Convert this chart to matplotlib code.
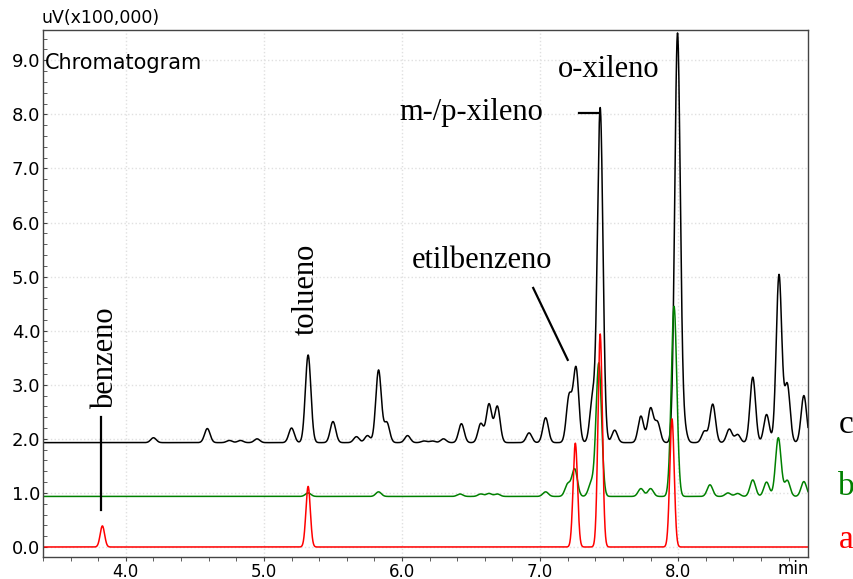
import numpy as np
import matplotlib
matplotlib.use("Agg")
import matplotlib.pyplot as plt
from matplotlib.ticker import MultipleLocator, FormatStrFormatter

# peak tables: retention time (min), apex value (x100,000 uV)
base_c = 1.93
rt_c = [4.20, 4.59, 4.75, 4.83, 4.95, 5.20, 5.32, 5.50, 5.67, 5.75, 5.83, 5.89,
        6.04, 6.16, 6.22, 6.30, 6.43, 6.57, 6.63, 6.69, 6.92, 7.04, 7.21, 7.26,
        7.38, 7.435, 7.54, 7.73, 7.80, 7.85, 7.995, 8.04, 8.19, 8.25, 8.37, 8.43,
        8.54, 8.64, 8.73, 8.79, 8.91]
top_c = [2.02, 2.19, 1.97, 1.97, 2.00, 2.20, 3.55, 2.32, 2.04, 2.06, 3.27, 2.30,
         2.06, 1.96, 1.96, 2.00, 2.28, 2.28, 2.64, 2.60, 2.11, 2.39, 2.78, 3.30,
         2.74, 8.11, 2.16, 2.42, 2.56, 2.30, 9.48, 2.24, 2.14, 2.64, 2.18, 2.08,
         3.14, 2.45, 5.03, 3.00, 2.80]

base_b = 0.935
rt_b = [5.32, 5.83, 6.42, 6.57, 6.63, 6.69, 7.04, 7.20, 7.25, 7.37, 7.425,
        7.73, 7.80, 7.97, 8.23, 8.36, 8.43, 8.54, 8.64, 8.725, 8.79, 8.91]
top_b = [1.00, 1.02, 0.98, 0.98, 0.99, 0.98, 1.02, 1.16, 1.44, 1.18, 3.40,
         1.08, 1.08, 4.45, 1.15, 1.00, 0.99, 1.24, 1.20, 2.02, 1.23, 1.21]

base_a = 0.0
rt_a = [3.83, 5.32, 7.255, 7.435, 7.955]
top_a = [0.39, 1.12, 1.92, 3.94, 2.37]


def trace(t, base, rts, tops, sig):
    y = np.full_like(t, base)
    for r, h in zip(rts, tops):
        y += (h - base) * np.exp(-0.5 * ((t - r) / sig) ** 2)
    return y


t = np.linspace(3.40, 8.94, 4000)
yc = trace(t, base_c, rt_c, top_c, 0.020)
yb = trace(t, base_b, rt_b, top_b, 0.020)
ya = trace(t, base_a, rt_a, top_a, 0.016)

fig = plt.figure(figsize=(8.54, 5.79), dpi=100)
ax = fig.add_axes([43 / 854, 1 - 557 / 579, (808 - 43) / 854, (557 - 30) / 579])

ax.plot(t, yc, color="black", lw=1.1)
ax.plot(t, yb, color="#008000", lw=1.1)
ax.plot(t, ya, color="#ff0000", lw=1.1)

ax.set_xlim(3.40, 8.94)
ax.set_ylim(-0.185, 9.56)
ax.xaxis.set_major_locator(MultipleLocator(1.0))
ax.xaxis.set_minor_locator(MultipleLocator(0.2))
ax.yaxis.set_major_locator(MultipleLocator(1.0))
ax.yaxis.set_minor_locator(MultipleLocator(0.2))
ax.xaxis.set_major_formatter(FormatStrFormatter("%.1f"))
ax.yaxis.set_major_formatter(FormatStrFormatter("%.1f"))
ax.tick_params(axis="x", which="both", direction="out", length=3, pad=1,
               labelsize=12, color="#444444")
ax.tick_params(axis="y", which="both", direction="in", length=3, pad=2,
               labelsize=13, color="#444444")
for lab in ax.get_xticklabels() + ax.get_yticklabels():
    lab.set_family("DejaVu Sans")
ax.grid(True, which="major", color="#e0e0e0", ls=":", lw=1.0)
for sp in ax.spines.values():
    sp.set_color("#444444")
    sp.set_linewidth(1.0)

serif = "Liberation Serif"
ax.text(3.85, 2.55, "benzeno", rotation=90, ha="center", va="bottom",
        family=serif, fontsize=22)
ax.plot([3.82, 3.82], [0.68, 2.40], color="black", lw=1.6)
ax.text(5.31, 3.92, "tolueno", rotation=90, ha="center", va="bottom",
        family=serif, fontsize=22)
ax.text(6.58, 5.16, "etilbenzeno", ha="center", va="baseline",
        family=serif, fontsize=22)
ax.plot([6.95, 7.20], [4.79, 3.46], color="black", lw=1.6)
ax.text(6.50, 7.89, "m-/p-xileno", ha="center", va="baseline",
        family=serif, fontsize=22)
ax.plot([7.283, 7.42], [8.03, 8.03], color="black", lw=1.6)
ax.text(7.50, 8.69, "o-xileno", ha="center", va="baseline",
        family=serif, fontsize=22)

ax.text(0.003, 8.95, "Chromatogram", transform=ax.get_yaxis_transform(),
        ha="left", va="center", family="DejaVu Sans", fontsize=15)

fig.text(42 / 854, 1 - 18 / 579, "uV(x100,000)", ha="left", va="center",
         family="DejaVu Sans", fontsize=12.5)
fig.text(793 / 854, 1 - 569 / 579, "min", ha="center", va="center",
         family="DejaVu Sans", fontsize=12)

fig.text(846 / 854, 1 - 433 / 579, "c", ha="center", va="baseline",
         family=serif, fontsize=24, color="black")
fig.text(846 / 854, 1 - 495 / 579, "b", ha="center", va="baseline",
         family=serif, fontsize=24, color="#008000")
fig.text(846 / 854, 1 - 548 / 579, "a", ha="center", va="baseline",
         family=serif, fontsize=24, color="#ff0000")

fig.savefig("out.png", dpi=100)
